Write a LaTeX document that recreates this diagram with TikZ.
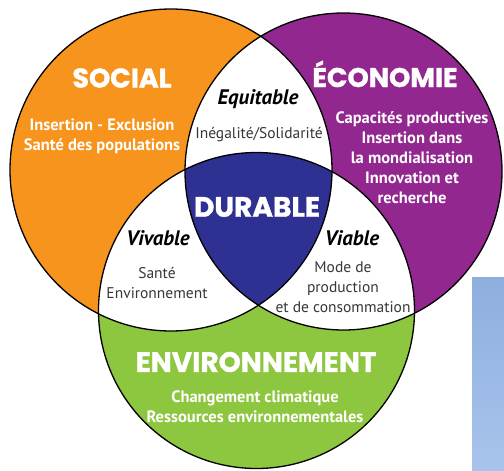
\documentclass[tikz,border=0pt]{standalone}
\usepackage{fontspec}
\setmainfont{PT Sans}
\newfontfamily\headfont{Poppins}[BoldFeatures={FakeBold=1.2}]
\usetikzlibrary{positioning}
\definecolor{socialc}{RGB}{247,148,29}
\definecolor{ecoc}{RGB}{146,39,143}
\definecolor{envc}{RGB}{141,198,63}
\definecolor{durc}{RGB}{46,49,146}
\definecolor{grayt}{RGB}{55,55,55}
\definecolor{bluetop}{RGB}{142,174,222}
\definecolor{bluebot}{RGB}{168,196,236}
\tikzset{
  headtxt/.style={text=white, font=\headfont\bfseries\fontsize{27}{30}\selectfont, inner sep=0pt},
  bodytxt/.style={text=white, font=\bfseries\fontsize{16.5}{20}\selectfont, align=center, inner sep=0pt},
  itlab/.style={text=black, font=\bfseries\itshape\fontsize{21}{22}\selectfont, inner sep=0pt},
  graytxt/.style={text=grayt, font=\fontsize{15.5}{20}\selectfont, align=center, inner sep=0pt},
  ring/.style={draw=black, line width=1.3pt}
}
\begin{document}
\begin{tikzpicture}[x=1pt,y=-1pt]
\useasboundingbox (0,0) rectangle (504,471);
\coordinate (L) at (171,170);
\coordinate (R) at (343.5,171.5);
\coordinate (G) at (256.5,310.5);
\def\rL{161}\def\rR{158.5}\def\rG{158}
% photo fragment
\shade[top color=bluetop, bottom color=bluebot] (472,277) rectangle (504,471);
% circle fills
\fill[socialc] (L) circle (\rL);
\fill[ecoc] (R) circle (\rR);
\fill[envc] (G) circle (\rG);
% pairwise overlaps
\begin{scope}\clip (L) circle (\rL); \fill[white] (R) circle (\rR); \fill[white] (G) circle (\rG);\end{scope}
\begin{scope}\clip (R) circle (\rR); \fill[white] (G) circle (\rG);\end{scope}
% triple overlap
\begin{scope}\clip (L) circle (\rL); \clip (R) circle (\rR); \fill[durc] (G) circle (\rG);\end{scope}
% outlines
\draw[ring] (L) circle (\rL);
\draw[ring] (R) circle (\rR);
\draw[ring] (G) circle (\rG);
% headings
\node[headtxt] (social) at (122,78) {SOCIAL};
\node[headtxt, anchor=base] (eco) at (385,87) {ÉCONOMIE};
\node[headtxt, font=\headfont\bfseries\fontsize{28}{30}\selectfont] (durable) at (257,207) {DURABLE};
\node[headtxt, font=\headfont\bfseries\fontsize{28}{30}\selectfont] (envir) at (256,362) {ENVIRONNEMENT};
% bodies
\node[bodytxt] (socbody) at (102,136) {Insertion - Exclusion\\Santé des populations};
\node[bodytxt] (ecobody) at (412,158) {Capacités productives\\Insertion dans\\la mondialisation\\Innovation et\\recherche};
\node[bodytxt] (envbody) at (255,407) {Changement climatique\\Ressources environnementales};
% pair labels
\node[itlab] (equit) at (258,99) {Equitable};
\node[graytxt] (equitb) at (259,135) {Inégalité/Solidarité};
\node[itlab] (vivab) at (158,238) {Vivable};
\node[graytxt] (vivabb) at (157,283) {Santé\\Environnement};
\node[itlab] (viab) at (352,238) {Viable};
\node[graytxt] (viabb) at (343,287) {Mode de\\production\\et de consommation};
\end{tikzpicture}
\end{document}
